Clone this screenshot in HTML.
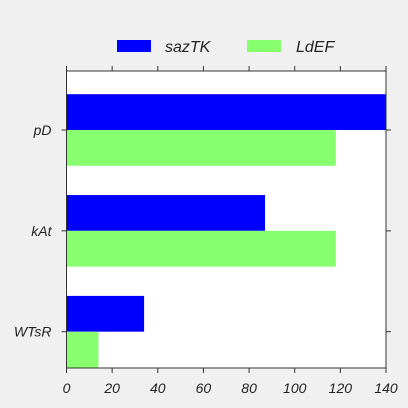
<!DOCTYPE html>
<html><head><meta charset="utf-8"><style>
body{margin:0;background:#f0f0f0;}
svg{display:block;font-family:"Liberation Sans",sans-serif;font-style:italic;}
</style></head><body>
<svg width="408" height="408" viewBox="0 0 408 408">
<rect x="0" y="0" width="408" height="408" fill="#f0f0f0"/>
<g>
<rect x="117" y="40" width="34" height="12" fill="#0000ff"/>
<text x="165" y="52" font-size="16" fill="#222">sazTK</text>
<rect x="247" y="40" width="34" height="12" fill="#88ff6e"/>
<text x="296" y="52" font-size="16" fill="#222">LdEF</text>
</g>
<rect x="66.5" y="71" width="319.5" height="297" fill="#fff"/>
<g id="bars"></g>
<rect x="66.5" y="71" width="319.5" height="297" fill="none" stroke="#333" stroke-width="1"/>
<g id="axes"></g>
</svg>
<script>
const categories=["WTsR","kAt","pD"];
const sazTK=[34,87,140];
const LdEF=[14,118,118];
const xTicks=[0,20,40,60,80,100,120,140];
const L=66.5,R=386,T=71,B=368;
const x=v=>L+(v/140)*(R-L);
const yMin=-0.36,yMax=2.585;
const y=i=>B-(i-yMin)/(yMax-yMin)*(B-T);
const bh=0.355*(B-T)/(yMax-yMin);
const ns="http://www.w3.org/2000/svg";
const bars=document.getElementById('bars'),axes=document.getElementById('axes');
function mk(tag,attrs,parent){const e=document.createElementNS(ns,tag);for(const k in attrs)e.setAttribute(k,attrs[k]);parent.appendChild(e);return e;}
categories.forEach((c,i)=>{
 const cy=y(i);
 const b1=mk('rect',{x:L,y:cy-bh,width:x(sazTK[i])-L,height:bh,fill:'#0000ff'},bars);
 
 
 const b2=mk('rect',{x:L,y:cy,width:x(LdEF[i])-L,height:bh,fill:'#88ff6e'},bars);
 
 
 const t1=mk('line',{x1:L-5,x2:L,y1:cy,y2:cy,stroke:'#333'},axes);
 
 
 const t2=mk('line',{x1:R,x2:R+5,y1:cy,y2:cy,stroke:'#333'},axes);
 
 
 const lb=mk('text',{x:L-15,y:cy+5,'text-anchor':'end','font-size':'14',fill:'#222'},axes);
 lb.textContent=c;
 
 
});
xTicks.forEach(v=>{
 const px=x(v);
 const a=mk('line',{x1:px,x2:px,y1:B,y2:B+5,stroke:'#333'},axes);
 
 
 const b=mk('line',{x1:px,x2:px,y1:T-5,y2:T,stroke:'#333'},axes);
 
 
 const t=mk('text',{x:px,y:B+25,'text-anchor':'middle','font-size':'14',fill:'#222'},axes);
 t.textContent=v;
 
 
});
</script>
</body></html>
